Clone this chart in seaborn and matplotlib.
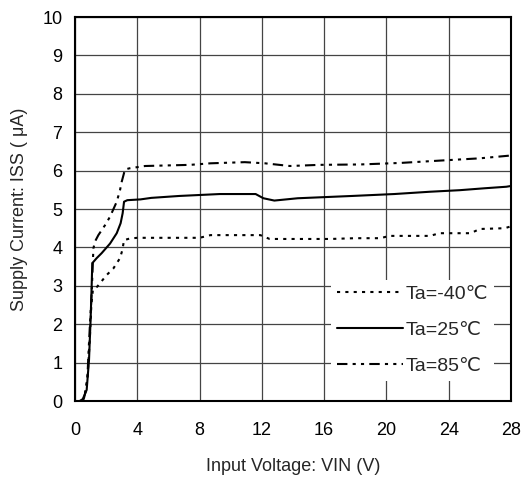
import pandas as pd
import numpy as np
import seaborn as sns
import matplotlib.pyplot as plt

# Supply current vs input voltage
x_m40 = [0.45, 0.6, 0.8, 0.95, 1.05, 1.15, 1.43, 2.03, 2.46, 2.89, 3.04, 3.15, 3.5, 4, 6, 8, 8.7, 10,
         11.9, 12.5, 14, 16.4, 18, 19.6, 20.2, 22.8, 23.4, 25.4, 26, 27.6, 28]
y_m40 = [0, 0.1, 0.6, 1.6, 2.5, 2.9, 2.98, 3.28, 3.45, 3.72, 3.93, 4.19, 4.23, 4.25, 4.25, 4.25, 4.32, 4.32,
         4.32, 4.22, 4.22, 4.22, 4.24, 4.24, 4.3, 4.3, 4.37, 4.37, 4.48, 4.5, 4.55]

x_25 = [0.3, 0.5, 0.75, 0.9, 1.0, 1.07, 1.11, 1.39, 1.71, 2.25, 2.68, 2.93, 3.06, 3.15, 3.36, 4.2, 4.9,
        6.7, 9.3, 11.6, 12.1, 12.8, 14.3, 17.8, 20.5, 22.8, 24.7, 26.3, 27.7, 28]
y_25 = [0, 0.05, 0.29, 1.07, 2.1, 3.0, 3.59, 3.72, 3.85, 4.1, 4.37, 4.63, 4.89, 5.19, 5.23, 5.25, 5.29,
        5.34, 5.39, 5.39, 5.28, 5.22, 5.28, 5.34, 5.39, 5.45, 5.49, 5.54, 5.58, 5.6]

x_85 = [0.49, 0.58, 0.71, 0.8, 0.86, 0.96, 1.07, 1.18, 1.28, 1.5, 1.93, 2.25, 2.68, 2.89, 3.0, 3.21, 3.5,
        4.5, 7.4, 8.7, 10.9, 12.2, 13.8, 15.7, 18.3, 20.9, 23.4, 26, 27.9, 28]
y_85 = [0, 0.08, 0.3, 0.63, 1.2, 2.0, 2.8, 3.97, 4.15, 4.32, 4.58, 4.8, 5.19, 5.49, 5.71, 6.03, 6.06,
        6.12, 6.15, 6.19, 6.22, 6.19, 6.12, 6.15, 6.16, 6.2, 6.26, 6.32, 6.39, 6.42]

labels = ["Ta=-40℃", "Ta=25℃", "Ta=85℃"]

df = pd.concat([
    pd.DataFrame({"V": x_m40, "I": y_m40, "Ta": labels[0]}),
    pd.DataFrame({"V": x_25, "I": y_25, "Ta": labels[1]}),
    pd.DataFrame({"V": x_85, "I": y_85, "Ta": labels[2]}),
])

sns.set_style("white")
plt.rcParams['font.family'] = ['Liberation Sans', 'DejaVu Sans']

fig = plt.figure(figsize=(5.23, 4.79), dpi=100)
ax = fig.add_axes([0.1434, 0.1628, 0.8337, 0.8017])

dashes = {
    labels[0]: (1.5, 2.5),
    labels[1]: "",
    labels[2]: (5, 2.5, 1.5, 2.5, 1.5, 2.5),
}
sns.lineplot(data=df, x="V", y="I", style="Ta", dashes=dashes, color="black",
             linewidth=1.5, estimator=None, sort=False, ax=ax)

ax.set_xlim(0, 28)
ax.set_ylim(0, 10)
ax.set_xticks(np.arange(0, 29, 4))
ax.set_yticks(np.arange(0, 11, 1))
ax.grid(True, color="#444444", linewidth=0.9)
ax.set_axisbelow(True)
for s in ax.spines.values():
    s.set_color("black")
    s.set_linewidth(1.5)
ax.tick_params(length=0, labelsize=13, colors="black")
ax.tick_params(axis="x", pad=15)
ax.tick_params(axis="y", pad=9)

ax.set_xlabel("Input Voltage: VIN (V)", fontsize=13, labelpad=14)
ax.set_ylabel("Supply Current: ISS ( μA)", fontsize=13, labelpad=10)

leg = ax.legend(loc="lower right", bbox_to_anchor=(0.96, 0.052), fontsize=14,
                handlelength=3.4, handletextpad=0.1, labelspacing=0.95,
                frameon=True, facecolor="white", edgecolor="none", framealpha=1,
                borderpad=0.3, borderaxespad=0, title=None)

fig.savefig("out.png", dpi=100)
